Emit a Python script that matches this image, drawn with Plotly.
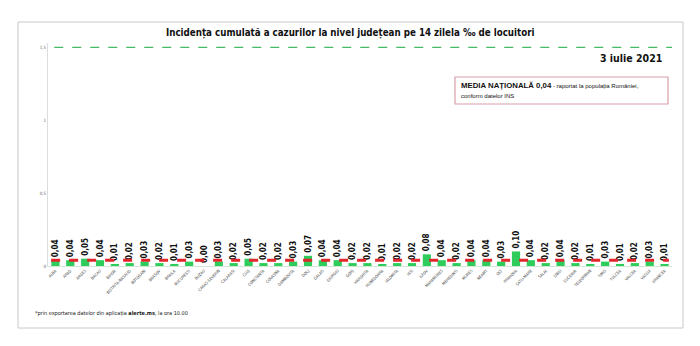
import plotly.graph_objects as go

judete = ["ALBA", "ARAD", "ARGES", "BACAU", "BIHOR", "BISTRITA-NASAUD", "BOTOSANI",
          "BRASOV", "BRAILA", "BUCURESTI", "BUZAU", "CARAS-SEVERIN", "CALARASI", "CLUJ",
          "CONSTANTA", "COVASNA", "DAMBOVITA", "DOLJ", "GALATI", "GIURGIU", "GORJ",
          "HARGHITA", "HUNEDOARA", "IALOMITA", "IASI", "ILFOV", "MARAMURES", "MEHEDINTI",
          "MURES", "NEAMT", "OLT", "PRAHOVA", "SATU-MARE", "SALAJ", "SIBIU", "SUCEAVA",
          "TELEORMAN", "TIMIS", "TULCEA", "VALCEA", "VASLUI", "VRANCEA"]
incidenta = [0.04, 0.04, 0.05, 0.04, 0.01, 0.02, 0.03, 0.02, 0.01, 0.03, 0.00, 0.03,
             0.02, 0.05, 0.02, 0.02, 0.03, 0.07, 0.04, 0.04, 0.02, 0.02, 0.01, 0.02,
             0.02, 0.08, 0.04, 0.02, 0.04, 0.04, 0.03, 0.10, 0.04, 0.02, 0.04, 0.02,
             0.01, 0.03, 0.01, 0.02, 0.03, 0.01]
media_nationala = 0.04
prag = 1.5
y_ticks = [0, 0.5, 1, 1.5]
y_tick_labels = ["0", "0,5", "1", "1,5"]

FONT = "Liberation Sans Narrow, DejaVu Sans Condensed, Arial Narrow, sans-serif"

W, H = 700, 346
L, R, T, B = 48, 28, 43, 80
PW, PH = W - L - R, H - T - B

def px(xp):
    return (xp - L) / PW

def py(yp):
    return (H - B - yp) / PH

fig = go.Figure()
fig.add_trace(go.Bar(
    x=judete, y=incidenta, width=0.55,
    marker=dict(color="#2ecc5a", line=dict(width=0)),
    text=[f"<b>{v:.2f}</b>".replace(".", ",") for v in incidenta],
    textposition="outside", textangle=-90, constraintext="none",
    textfont=dict(family="DejaVu Sans Condensed, sans-serif", size=8, color="#111111"),
    cliponaxis=False,
))

# pragul (linie verde) si media nationala (linie rosie)
fig.add_shape(type="line", xref="paper", yref="y", x0=0.01, x1=1.0, y0=prag, y1=prag,
              line=dict(color="#45b966", width=1.2, dash="dash"))
fig.add_shape(type="line", xref="paper", yref="y", x0=0.005, x1=0.995,
              y0=media_nationala, y1=media_nationala,
              line=dict(color="#e3262c", width=3, dash="dash"))

# chenar exterior
fig.add_shape(type="rect", xref="paper", yref="paper",
              x0=px(18), x1=px(683), y0=py(328), y1=py(22),
              line=dict(color="#c8c8c8", width=1), layer="below")
# caseta media
fig.add_shape(type="rect", xref="paper", yref="paper",
              x0=px(455), x1=px(668), y0=py(104), y1=py(77),
              line=dict(color="#d9a0a8", width=1.2))

fig.add_annotation(xref="paper", yref="paper", x=px(459), y=py(79), xanchor="left", yanchor="top",
                   align="left", showarrow=False,
                   text="<b>MEDIA NAȚIONALĂ 0,04</b><span style='font-size:6px'> - raportat la populația României,</span>"
                        "<br><span style='font-size:6px'>conform datelor INS</span>",
                   font=dict(family="Liberation Sans, Arial, sans-serif", size=7.8, color="#111111"))

fig.add_annotation(xref="paper", yref="paper", x=0.5 * (px(18) + px(683)), y=py(33),
                   xanchor="center", yanchor="middle", showarrow=False,
                   text="<b>Incidența cumulată a cazurilor la nivel județean pe 14 zilela ‰ de locuitori</b>",
                   font=dict(family=FONT, size=9.7, color="#111111"))
fig.add_annotation(xref="paper", yref="paper", x=px(664), y=py(58),
                   xanchor="right", yanchor="middle", showarrow=False,
                   text="<b>3 iulie 2021</b>",
                   font=dict(family=FONT, size=10.5, color="#111111"))
fig.add_annotation(xref="paper", yref="paper", x=px(33), y=py(313),
                   xanchor="left", yanchor="middle", showarrow=False,
                   text="*prin exportarea datelor din aplicația <b>alerte.ms</b>, la ora 10.00",
                   font=dict(family=FONT, size=5.5, color="#222222"))

fig.update_layout(
    width=W, height=H, margin=dict(l=L, r=R, t=T, b=B),
    paper_bgcolor="white", plot_bgcolor="white", showlegend=False,
    bargap=0.45,
)
fig.update_xaxes(tickangle=-45, tickfont=dict(family=FONT, size=4, color="#444444"),
                 showline=True, linecolor="#cfe8d4", linewidth=1, ticks="", showgrid=False)
fig.update_yaxes(range=[0, 1.53], tickvals=y_ticks, ticktext=y_tick_labels,
                 tickfont=dict(family=FONT, size=4.5, color="#666666"),
                 showline=True, linecolor="#dddddd", linewidth=1, showgrid=False,
                 zeroline=False, ticks="")

fig.write_html("out.html")
